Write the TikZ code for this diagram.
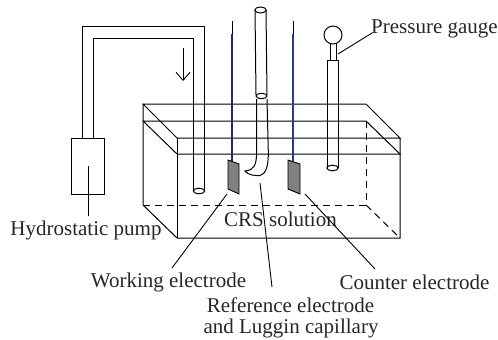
\documentclass[tikz,border=0pt]{standalone}
\usepackage{fontspec}
\setmainfont{Liberation Serif}
\usetikzlibrary{positioning,calc,arrows.meta}
\definecolor{wireblue}{rgb}{0.12, 0.16, 0.42}
\definecolor{wireblue2}{rgb}{0.18, 0.22, 0.60}
\definecolor{plategray}{rgb}{0.5, 0.5, 0.5}

\begin{document}
\begin{tikzpicture}[x=1pt,y=-1pt,line width=1pt,
label/.style={inner sep=0pt,font=\fontsize{21}{21}\selectfont,text=black!85},
edge/.style={line width=0.9pt},
tube/.style={line width=1pt},
wire/.style={line width=2pt},
plate/.style={fill=plategray,draw=black,line width=0.9pt},
back/.style={dash pattern=on 7pt off 5pt}]
\useasboundingbox (0,0) rectangle (498,340);

% labels
\node[label] (pressure) at (434.5,29) {Pressure gauge};
\node[label] (pump) at (86,230) {Hydrostatic pump};
\node[label] (solution) at (280.5,219) {CRS solution};
\node[label] (working) at (168.5,282) {Working electrode};
\node[label] (counter) at (414.5,282) {Counter electrode};
\node[label] (reference) at (290.5,305) {Reference electrode};
\node[label] (luggin) at (291,328) {and Luggin capillary};

% tank
\draw (143,104) -- (366,104) -- (400,138) -- (177,138) -- cycle;
\draw (143,121) -- (366,121) -- (400,154) -- (177,154) -- cycle;
\draw (143,104) -- (143,205) -- (177,238) -- (400,238) -- (400,138);
\draw (177,138) -- (177,238);
\draw[back] (143,205) -- (366,205) -- (366,121);
\draw[back] (366,205) -- (400,238);

% pump and pipe
\node[draw,minimum width=33pt,minimum height=56pt,inner sep=0pt] (pumpbox) at (87.5,166) {};
\coordinate (stemtop) at (88,166);
\coordinate (stemend) at (88,216);
\draw[edge] (stemtop) -- (stemend);
\draw[tube] (82,138) -- (82,26) -- (204,26) -- (204,191);
\draw[tube] (93,138) -- (93,38) -- (193,38) -- (193,191);
\draw[tube] (199,191) ellipse (5.7 and 2.8);
\coordinate (flowtop) at (183,48);
\coordinate (flowend) at (183,81);
\draw[edge,-{Straight Barb[length=8pt,width=14pt]}] (flowtop) -- (flowend);

% working electrode
\coordinate (wa) at (232,21);
\coordinate (wb) at (232,34);
\coordinate (wc) at (232,161);
\draw[edge] (wa) -- (wb);
\draw[wire,color=wireblue] (wb) -- (wc);
\draw[plate] (228,160) -- (239,164) -- (239,194) -- (228,189) -- cycle;

% counter electrode
\coordinate (ca) at (293,21);
\coordinate (cb) at (293,34);
\coordinate (cc) at (293,161);
\draw[edge] (ca) -- (cb);
\draw[wire,color=wireblue2] (cb) -- (cc);
\draw[plate] (288,160) -- (300,164) -- (300,194) -- (288,189) -- cycle;

% reference electrode
\draw[tube] (255,10) -- (256,95);
\draw[tube] (266,10) -- (267,95);
\draw[tube] (260.5,10) ellipse (5.7 and 3);
\draw[tube] (261.5,96) ellipse (5.5 and 2.7);
\draw[tube] (256.7,99) -- (256.7,150) .. controls (256.7,166) and (254,170) .. (245,171)
  .. controls (248,175) and (255,176) .. (260,175.5) .. controls (266,174) and (268.5,166) .. (268.3,152) -- (267,99);

% pressure gauge
\draw[tube] (333,35) circle (9);
\draw[tube] (330,43.5) -- (330,60);
\draw[tube] (336,43.5) -- (336,60);
\draw[tube] (327,168) -- (327,60) -- (338,60) -- (338,168);
\draw[tube] (332.5,168) ellipse (5.7 and 2.8);

% leaders
\coordinate (pgauge) at (338,54);
\coordinate (ptext) at (372,33);
\coordinate (wplate) at (227,194);
\coordinate (wtext) at (172,268);
\coordinate (rtip) at (260,183);
\coordinate (rtext) at (272,287);
\coordinate (cplate) at (305,194);
\coordinate (ctext) at (375,269);
\draw[edge] (pgauge) -- (ptext);
\draw[edge] (wplate) -- (wtext);
\draw[edge] (rtip) -- (rtext);
\draw[edge] (cplate) -- (ctext);

\end{tikzpicture}
\end{document}
